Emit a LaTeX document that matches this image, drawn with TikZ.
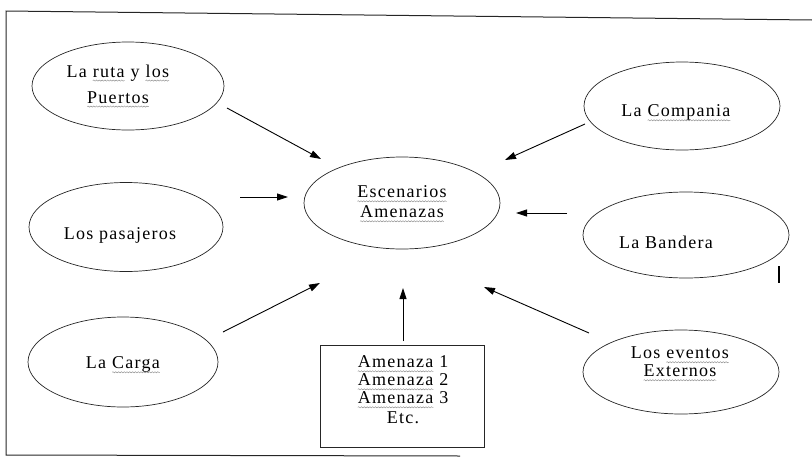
\documentclass[tikz,border=0pt]{standalone}
\usepackage{fontspec}
\setmainfont{Liberation Serif}[LetterSpace=7]
\usetikzlibrary{shapes.geometric,arrows.meta,decorations.pathmorphing}
\newcommand\wv[1]{\tikz[baseline=(wvw.base)]{\node[inner sep=0pt, outer sep=0pt] (wvw) {#1}; \draw[decorate, decoration={snake,amplitude=0.6pt,segment length=2.8pt}, black!45, line width=0.45pt] ([yshift=-3.5pt]wvw.base west) -- ([yshift=-3.5pt]wvw.base east);}}
\tikzset{
  oval/.style={draw=black!85, line width=0.7pt, ellipse, inner sep=0pt},
  txt/.style={font=\fontsize{18}{19}\selectfont, align=center, inner sep=0pt},
  arr/.style={line width=0.9pt, -{Triangle[length=11pt,width=7pt]}},
  frame/.style={line width=1pt, black!85}
}
\begin{document}
\begin{tikzpicture}[x=1pt,y=-1pt]
\useasboundingbox (0,0) rectangle (812,461);
% frame
\coordinate (f1) at (6,11);
\coordinate (f2) at (812,20);
\coordinate (f3) at (6,455);
\coordinate (f4) at (460,456);
\draw[frame] (f2) -- (f1) -- (f3) -- (f4);
% ellipses
\node[oval, minimum width=192pt, minimum height=88pt] (A) at (128,86) {};
\node[oval, minimum width=194pt, minimum height=89pt] (B) at (126,227) {};
\node[oval, minimum width=190pt, minimum height=90pt] (C) at (123,362) {};
\node[oval, minimum width=196pt, minimum height=92pt] (E) at (402,203) {};
\node[oval, minimum width=196pt, minimum height=88pt] (P) at (682,106) {};
\node[oval, minimum width=206pt, minimum height=86pt] (G) at (686,235) {};
\node[oval, minimum width=196pt, minimum height=84pt] (V) at (681,372) {};
\node[draw=black!85, line width=0.8pt, minimum width=164pt, minimum height=102pt, inner sep=0pt] (R) at (402,396) {};
% texts
\node[txt] (tA) at (118,86) {La \wv{ruta} y \wv{los}\\[7pt] \wv{Puertos}};
\node[txt] (tB) at (120,235) {Los pasajeros};
\node[txt] (tC) at (123,365) {La \wv{Carga}};
\node[txt] (tE) at (402,204) {\wv{Escenarios}\\[1pt] \wv{Amenazas}};
\node[txt] (tP) at (676,113) {La \wv{Compania}};
\node[txt] (tG) at (666,242) {La Bandera};
\node[txt] (tV) at (680,364) {Los \wv{eventos}\\[-1pt] \wv{Externos}};
\node[txt] (tR) at (403,390) {\wv{Amenaza} 1\\[-1pt] \wv{Amenaza} 2\\[-1pt] \wv{Amenaza} 3\\[1pt] Etc.};
% arrow end points
\coordinate (a1) at (227,108); \coordinate (a2) at (321,159);
\coordinate (b1) at (240,197); \coordinate (b2) at (288,197);
\coordinate (c1) at (223,332); \coordinate (c2) at (320,283);
\coordinate (r1) at (403,341); \coordinate (r2) at (403,288);
\coordinate (p1) at (585,124); \coordinate (p2) at (505,160);
\coordinate (g1) at (567,213); \coordinate (g2) at (516,213);
\coordinate (v1) at (589,333); \coordinate (v2) at (484,287);
\draw[arr] (a1) -- (a2);
\draw[arr] (b1) -- (b2);
\draw[arr] (c1) -- (c2);
\draw[arr] (r1) -- (r2);
\draw[arr] (p1) -- (p2);
\draw[arr] (g1) -- (g2);
\draw[arr] (v1) -- (v2);
% stray mark
\coordinate (s1) at (779,266); \coordinate (s2) at (779,283);
\draw[line width=2pt] (s1) -- (s2);
\end{tikzpicture}
\end{document}
